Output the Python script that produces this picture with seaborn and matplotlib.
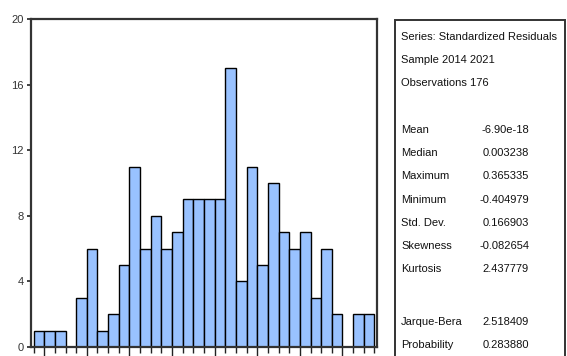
import numpy as np
import pandas as pd
import matplotlib
matplotlib.use("Agg")
import matplotlib.pyplot as plt
from matplotlib import font_manager
from matplotlib.patches import Rectangle
import seaborn as sns

# histogram of standardized residuals (EViews style), bins of width 0.025
bin_start = -0.425
bin_width = 0.025
counts = [1, 1, 1, 0, 3, 6, 1, 2, 5, 11, 6, 8, 6, 7, 9, 9,
          9, 9, 17, 4, 11, 5, 10, 7, 6, 7, 3, 6, 2, 0, 2, 2]
y_ticks = [0, 4, 8, 12, 16, 20]
major_x = [-0.4, -0.3, -0.2, -0.1, 0.0, 0.1, 0.2, 0.3]

header_lines = ["Series: Standardized Residuals", "Sample 2014 2021", "Observations 176"]
stat_names = ["Mean", "Median", "Maximum", "Minimum", "Std. Dev.", "Skewness", "Kurtosis"]
stat_values = ["-6.90e-18", "0.003238", "0.365335", "-0.404979", "0.166903", "-0.082654", "2.437779"]
test_names = ["Jarque-Bera", "Probability"]
test_values = ["2.518409", "0.283880"]

W, H = 567, 356
sns.set_theme(style="white")

# narrow font if it is there, otherwise regular Liberation Sans at a smaller size
names = {f.name for f in font_manager.fontManager.ttflist}
if "Liberation Sans Narrow" in names:
    plt.rcParams["font.family"] = ["Liberation Sans Narrow", "DejaVu Sans"]
    fs, tick_fs = 9.5, 9
else:
    plt.rcParams["font.family"] = ["Liberation Sans", "DejaVu Sans"]
    fs, tick_fs = 8, 8

fig = plt.figure(figsize=(W / 100, H / 100), dpi=100)
fig.patch.set_facecolor("white")


def fx(px):
    return px / W


def fy(py):
    return 1 - py / H


ax = fig.add_axes([fx(31), fy(347), fx(377) - fx(31), fy(19) - fy(347)])

edges = [bin_start + bin_width * i for i in range(len(counts) + 1)]
df = pd.DataFrame({
    "resid": [(edges[i] + edges[i + 1]) / 2 for i in range(len(counts))],
    "n": counts,
})
sns.histplot(data=df, x="resid", weights="n", bins=edges, ax=ax,
             color="#99c2ff", alpha=1, edgecolor="black", linewidth=1.0)

ax.set_xlim(edges[0] - 0.006, edges[-1] + 0.006)
ax.set_ylim(0, 20)
ax.set_yticks(y_ticks)
ax.set_xticks(major_x)
ax.set_xticks(edges, minor=True)
ax.set_xticklabels([])
ax.set_xlabel("")
ax.set_ylabel("")
ax.tick_params(axis="y", direction="out", length=3, width=1.2, color="#222222",
               labelsize=tick_fs, pad=2, left=True, labelcolor="#333333")
ax.tick_params(axis="x", which="major", direction="out", length=8, width=1, color="#222222", bottom=True)
ax.tick_params(axis="x", which="minor", direction="out", length=4, width=1, color="#222222", bottom=True)
for s in ax.spines.values():
    s.set_visible(True)
    s.set_color("#333333")
    s.set_linewidth(1.6)

# statistics box
box = Rectangle((fx(395), -0.1), fx(565) - fx(395), fy(20) + 0.1, transform=fig.transFigure,
                fill=False, edgecolor="#333333", linewidth=1.4, clip_on=False)
fig.add_artist(box)

for i, t in enumerate(header_lines):
    fig.text(fx(401), fy(37 + 23 * i), t, fontsize=fs, va="center", ha="left", color="#111111")
for i, (n, v) in enumerate(zip(stat_names, stat_values)):
    y = fy(130 + 23.2 * i)
    fig.text(fx(401), y, n, fontsize=fs, va="center", ha="left", color="#111111")
    fig.text(fx(529), y, v, fontsize=fs, va="center", ha="right", color="#111111")
for i, (n, v) in enumerate(zip(test_names, test_values)):
    y = fy(322 + 23 * i)
    fig.text(fx(401), y, n, fontsize=fs, va="center", ha="left", color="#111111")
    fig.text(fx(529), y, v, fontsize=fs, va="center", ha="right", color="#111111")

fig.savefig("out.png", dpi=100)
